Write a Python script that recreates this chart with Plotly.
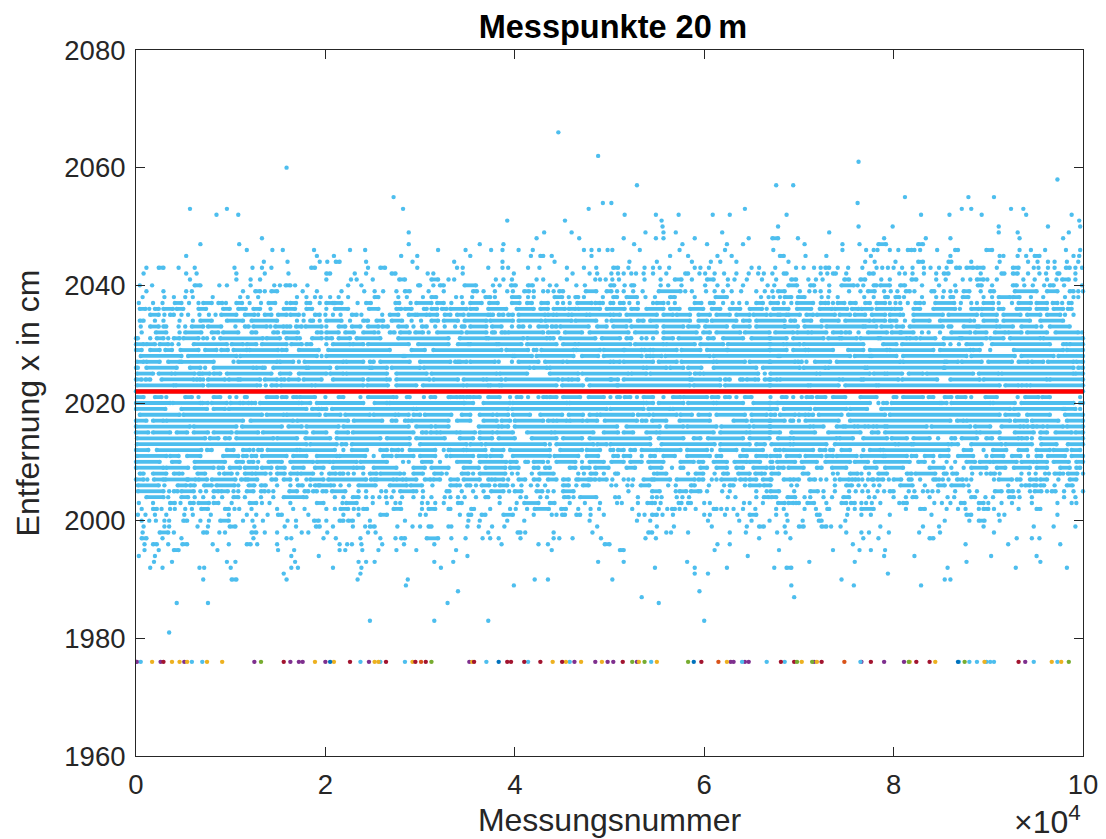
import plotly.graph_objects as go

# x positions are in hundreds of measurements; a tuple is a run of touching dots
r2066=[446]
r2062=[488]
r2061=[763]
r2060=[159]
r2058=[973]
r2057=[529,676,694]
r2055=[272,812,879,906]
r2054=[493,502,762]
r2053=[57,96,282,478,643,872,882,924,937]
r2052=[85,108,516,549,573,609,627,687,829,859,893,940,988]
r2051=[392,453,555,996]
r2050=[556,678,763,799,911,963,997]
r2049=[288,431,460,538,557,570,619,732,911,931,985]
r2048=[133,423,468,515,549,557,590,647,(672,678),699,790,834,860,933,979]
r2047=[68,109,288,363,388,526,577,603,624,641,706,746,764,(784,792),(826,831)]
r2046=[117,144,155,188,226,242,319,348,375,387,404,419,473,481,489,498,503,532,574,622,673,746,771,779,783,796,805,(815,819),822,828,846,(865,868),(898,904),933,945,960,982,997]
r2045=[53,191,209,280,297,353,417,(427,430),439,481,564,583,614,629,(680,684),707,729,776,860,912,916,931,940,(949,954),990,996]
r2044=[135,160,194,202,(211,215),243,292,336,387,442,521,550,587,607,617,634,689,770,780,802,(826,831),(858,861),882,912,942,952,963,970,983,995]
r2043=[11,(24,29),45,62,104,123,133,143,(185,189),245,(258,263),297,339,345,372,387,393,414,426,455,473,486,(504,509),520,537,546,553,563,590,596,605,650,658,675,697,705,716,723,(728,732),741,752,767,782,788,794,800,809,820,832,839,848,856,(866,870),(877,884),(888,895),909,(926,932),948,953,963,970,(982,986),992,999]
r2042=[8,53,64,106,136,161,(201,205),231,243,(270,274),308,314,345,399,461,479,487,502,509,515,523,528,536,546,560,(580,583),595,601,611,621,634,647,657,663,672,(684,687),723,730,(736,739),750,(774,779),806,812,820,832,845,(853,858),892,(914,917),(926,931),942,954,961,(973,975),992]
r2041=[57,106,121,131,201,227,233,250,(278,284),(312,319),330,336,380,388,397,423,430,455,485,490,496,503,510,537,554,(569,576),587,(603,610),625,632,645,661,676,(692,697),710,718,725,(748,753),(765,770),787,796,(819,824),845,855,873,881,(888,895),899,909,937,949,962,972,(978,985),992]
r2040=[4,17,(62,68),88,96,121,146,152,(158,163),168,181,224,238,(298,300),314,(321,325),(347,359),377,384,(396,401),(414,419),437,444,465,474,(501,505),516,(523,526),554,562,576,601,614,625,641,667,674,(689,698),(712,716),732,(745,758),762,768,(779,782),(786,796),(807,812),830,848,865,(889,893),904,(926,930),938,947,959,(965,969),980,999]
r2039=[11,29,53,59,113,(126,131),136,(143,149),176,191,217,241,252,261,275,(284,289),309,325,(356,360),367,379,392,398,(410,415),420,430,435,441,(447,451),(475,486),(497,502),508,515,525,535,(552,575),580,587,602,611,620,629,639,655,664,672,(678,685),701,711,717,723,732,753,765,(773,780),790,797,804,(813,817),822,(840,843),853,860,866,(874,880),892,(902,906),(928,951),(962,973),(986,990),995,1000]
r2038=[7,30,40,52,60,81,110,118,129,170,180,189,195,205,214,224,(252,256),277,286,303,(312,317),338,344,355,(369,374),379,(397,405),414,420,(442,450),457,(464,467),473,493,(504,508),(518,529),538,548,(564,569),590,(612,624),660,668,673,680,(685,692),(699,706),724,731,741,769,779,(791,794),(802,806),811,830,845,852,(860,863),(873,879),895,904,(911,923),(926,933),945,958,981,990,995]
r2037=[3,18,28,(41,48),56,66,(71,80),(87,91),95,(106,112),120,132,(140,147),159,(163,169),(180,184),194,(201,208),(210,217),234,(243,248),(274,278),290,(296,312),(318,325),333,345,(353,365),(373,382),(397,405),(413,418),(428,435),445,451,458,(466,481),(485,490),493,(501,504),(511,515),521,530,546,(550,557),562,569,(590,597),(606,610),620,630,637,645,(655,662),(670,678),684,692,(698,715),(723,728),731,736,(741,748),(754,760),(770,775),(782,791),796,802,807,815,(823,828),832,(844,864),871,882,888,(895,905),911,925,(932,945),(951,962),(968,973),978,(985,988)]
r2036=[(4,10),14,(20,24),(29,39),(43,50),(66,74),(92,99),(108,116),(124,131),142,(156,168),(180,186),201,(210,224),(246,256),(275,280),(284,291),(304,307),(312,318),(323,328),(332,349),(353,360),(372,391),(402,420),(427,435),(441,453),(457,464),(467,490),(497,516),(523,530),(539,557),(564,574),(585,599),(608,617),(627,638),(648,661),666,(673,689),(698,713),(722,735),(738,751),(756,763),(766,777),(782,798),(801,808),(821,828),(842,865),870,(882,890),(893,905),(911,916),(930,944),(951,962),(969,979),(984,988)]
r2035=[(15,24),30,(36,40),48,55,67,77,84,(90,106),(115,125),129,(136,143),(150,159),(163,172),177,(189,194),200,208,216,(228,233),238,260,(268,277),(288,295),(297,307),(310,318),(326,332),(339,346),(351,372),(374,377),(383,388),(393,398),(404,432),(435,441),(444,457),(460,476),(479,501),(504,511),(518,550),(557,567),(571,585),(594,606),(613,627),(634,648),(652,666),(670,678),(680,687),(689,701),(708,715),(719,738),(743,754),(759,770),(777,791),(796,807),810,(821,852),(858,888),(893,909),(916,934),(941,955),(962,976),981,990]
r2034=[(4,8),20,29,46,60,(68,80),(96,113),(122,149),170,177,(184,187),194,(201,217),226,(240,245),(254,261),(270,281),291,301,(312,319),(325,340),(347,370),(374,398),(404,428),(432,460),(464,486),497,(502,522),(530,536),(543,585),(594,603),(608,634),(641,648),(655,685),(691,696),(705,713),(724,742),(749,775),(779,791),(796,803),812,(821,838),(849,881),885,(895,909),(916,944),(955,979)]
r2033=[5,(15,24),(29,32),45,52,(59,71),(76,90),105,(115,119),(124,138),142,(147,156),(159,163),(169,175),(179,196),201,(214,221),(228,237),(245,256),(260,266),(277,286),293,(302,307),316,326,337,(344,347),(353,370),(376,386),397,(404,409),416,(425,434),(439,444),(448,478),(487,497),(504,518),(523,550),(557,578),(583,594),(601,624),(631,648),(655,685),(685,699),(706,724),(729,768),(770,782),(787,798),(803,810),(817,852),(858,861),(874,888),(890,909),(912,926),(935,951),956,(965,986)]
r2032=[6,(21,32),46,(52,69),(80,87),(92,108),(122,127),(145,150),(156,171),(191,196),(201,214),(221,230),(240,252),256,(268,273),(279,289),(295,303),309,(318,344),(349,370),(376,379),(386,390),(393,430),(435,446),(453,471),(479,520),(527,550),(557,592),(599,606),(613,638),(643,669),(675,694),(698,710),(713,729),(736,745),(749,754),763,(773,793),(798,807),(808,821),830,837,849,(861,881),(886,898),(907,918),(921,935),(941,962),(971,995),999]
r2031=[(0,2),15,(22,29),34,(40,46),(50,66),71,75,82,(89,134),(138,152),(159,170),173,(186,196),(201,207),(214,226),(233,258),(277,330),(342,370),(372,409),(413,434),(437,441),(448,485),(492,511),(518,523),534,539,546,(557,567),(573,596),(604,610),(620,641),(650,669),(670,687),(694,726),(731,743),(745,761),(765,784),(786,814),(817,824),(828,844),(853,870),(872,898),(902,916),(923,955),(958,1000)]
r2030=[(0,8),(11,20),(25,34),38,45,(61,96),(101,113),(117,127),(133,159),(164,175),(180,185),201,(208,226),(229,240),(245,288),(298,330),(340,351),(353,381),(383,407),(413,444),(451,464),(467,522),(527,557),(560,590),(596,620),(625,669),(670,684),(687,701),(705,768),(789,803),(809,853),860,869,(877,893),(904,965),(979,983),(986,1000)]
r2029=[(0,6),(15,25),(31,38),(47,66),(73,85),(90,97),(103,117),(120,150),(154,159),(172,193),(203,268),(291,305),(314,386),(391,414),(420,423),(428,462),(465,490),(494,515),(516,534),(537,543),(546,571),(576,596),(603,624),(625,669),(670,687),(694,707),(710,736),(752,768),(775,793),(796,842),(849,881),(884,891),902,(927,979),(983,1000)]
r2028=[(5,48),(55,106),(110,191),196,(201,282),(284,398),(400,418),(423,462),(471,488),(494,534),(539,543),(546,555),(559,606),(610,678),(680,754),(759,775),(777,803),(810,877),(882,928),(935,969),(974,1000)]
r2027=[(1,8),(11,25),(34,46),(48,82),103,(108,149),(152,166),172,(178,219),(222,240),(247,251),(258,289),(300,332),(337,340),(342,349),(353,379),383,397,(404,425),(432,451),(455,501),(504,511),(515,546),(552,571),(576,610),(613,643),(648,669),(670,696),(699,703),708,(717,733),(740,807),(810,854),(856,868),(872,893),(900,925),(932,942),(946,958),(963,990),(993,1000)]
r2026=[(0,2),(11,43),(57,68),73,(82,124),(127,134),136,(145,180),(182,205),(212,247),(249,265),(270,300),(304,416),(420,434),(437,536),(539,560),(564,578),(583,597),(610,655),(662,701),(705,728),(731,770),(772,853),(854,990),(995,1000)]
r2025=[(1,18),(24,38),(41,62),(66,68),(70,78),(82,89),(96,143),(152,163),(172,201),(205,219),(222,265),(275,307),(312,381),(384,413),(437,467),(471,520),(523,539),(543,585),(590,596),(599,657),664,(670,719),(722,775),(779,791),(793,809),(816,831),(835,884),(890,911),(914,990),(992,1000)]
r2024=[(0,6),(10,15),(27,61),(64,68),71,(76,94),(98,108),(110,131),(136,149),(153,157),(161,172),(177,196),(208,240),(245,265),268,(275,310),(314,340),(346,367),(370,386),(390,446),(450,457),(460,467),(476,501),(502,509),(515,585),(587,617),(622,627),(638,641),(645,654),657,(664,669),(670,677),(680,743),(746,766),(768,805),(809,846),(860,891),(895,962),(965,1000)]
r2023=[(1,40),(42,71),(76,128),131,137,(143,149),(153,186),(189,240),(244,266),(275,296),(303,346),(349,372),(374,384),(386,444),(450,472),(479,508),(509,585),(589,617),(622,669),(670,710),(712,742),(749,782),(784,912),(918,932),(935,941),(944,1000)]
r2022=[(0,1000)]
r2021=[(1,8),(20,27),32,(52,59),66,(82,89),99,106,(115,117),(138,149),(154,159),(166,170),(173,189),200,(214,219),237,(245,272),275,(286,289),304,(311,316),330,(332,339),(342,346),(349,353),(356,363),(372,384),395,(402,407),414,425,(430,434),(437,444),(451,469),(478,494),501,(508,511),(516,522),529,(536,546),557,(567,575),(578,603),(608,615),(622,627),634,(643,650),670,(682,687),694,703,(708,714),(719,728),(736,749),(765,782),(800,803),(810,831),(837,842),(854,861),(867,876),882,(897,909),931,(939,953),(957,965),997]
r2020=[(0,36),(39,68),(70,76),(80,96),(100,110),(113,119),(122,126),(131,172),(175,184),(191,240),(252,265),(268,346),(347,356),(367,395),(398,455),(458,536),(539,546),(552,578),(583,610),(613,641),(652,669),(670,677),(678,775),784,(789,793),(798,849),(851,856),(861,902),(905,928),(935,990),(997,1000)]
r2019=[(0,31),(48,75),(82,94),(98,180),(186,193),(196,201),(207,293),(296,393),(397,497),(501,536),(541,564),(567,669),(670,677),(684,712),(717,750),(754,772),(787,923),(927,979),(981,992),997]
r2018=[(4,46),(50,133),(138,156),(159,194),(200,216),(221,247),(251,274),(277,288),(293,300),(305,333),(344,353),(363,377),(381,393),(398,416),(427,450),(457,472),(479,487),(490,525),(530,542),(546,571),(575,587),(594,606),(613,643),(650,666),(670,675),(680,696),(700,707),(710,715),(721,745),(752,791),(796,912),(918,932),(941,965),(981,1000)]
r2017=[(0,11),(18,29),(32,113),(121,166),(170,224),(230,260),(270,275),(284,288),(291,330),(339,353),(367,381),(386,395),(400,430),(435,441),(444,455),(458,472),(476,487),(495,529),(534,539),(545,560),(574,606),(631,645),(650,669),(670,685),(691,694),700,(707,742),(754,860),(867,874),(877,923),(928,941),(946,974),(983,1000)]
r2016=[(0,57),(61,106),(112,154),(161,175),(180,214),(219,288),(296,312),(316,330),(362,383),(386,393),(400,508),(518,553),(560,578),(582,613),(618,648),(652,669),(670,712),(715,726),(740,747),(749,759),(762,770),(773,779),(782,791),(793,835),(840,881),(886,902),(914,934),(937,942),(946,948),(951,958),(962,979),(983,1000)]
r2015=[(0,13),(18,36),(43,54),(61,76),(82,101),(106,129),(134,180),(187,201),(212,224),(229,293),(302,307),(311,318),(321,339),(342,358),(363,377),(381,398),(413,439),(442,483),(494,509),(515,525),(539,550),(553,610),(617,645),(648,669),(670,680),(692,717),(731,765),(777,784),(791,888),(891,912),(928,948),(955,962),(971,988),(992,1000)]
r2014=[(1,73),(78,87),(94,99),(106,145),(149,170),(179,205),(212,258),(265,289),(296,326),(342,356),(363,376),(383,400),(418,444),(451,471),(479,543),(552,578),(589,596),(604,641),(648,669),(678,691),(694,740),(743,757),(768,793),(798,814),(821,838),847,(861,865),(872,888),(898,904),(912,932),(935,941),946,(955,1000)]
r2013=[(1,180),(184,212),(217,222),(228,289),(300,349),(353,365),(369,432),437,(444,483),(487,497),(501,543),(555,611),(617,648),(655,664),(671,691),(694,729),(738,802),(805,819),(821,858),(861,868),(882,914),(918,946),(956,972),(984,1000)]
r2012=[(0,13),(22,69),(75,80),(96,103),(113,120),124,(129,133),(139,170),(173,210),219,(228,244),(258,265),(270,277),281,(289,316),325,330,(332,346),(349,369),(376,388),(395,437),(448,471),(476,490),(501,504),(509,515),(522,527),(534,550),(553,575),(582,603),608,(617,634),(641,662),(675,680),(684,715),(722,728),(733,736),(745,754),768,(775,786),(789,858),(874,882),895,(905,919),(932,941),(951,965),(969,983),(988,997)]
r2011=[(1,32),(36,45),(54,68),(92,108),(113,117),(122,127),(133,159),(166,180),(191,212),(215,242),251,(261,270),(275,293),(300,316),328,(332,356),(362,370),(374,386),(398,437),(442,467),(476,488),(504,509),(515,522),534,(543,548),(557,569),(582,606),(613,618),(638,645),(655,666),(670,677),680,(687,701),(707,724),(729,736),(740,761),(766,789),(791,814),(819,824),(833,842),(849,858),(868,884),898,(904,916),(925,934),942,(951,956),(963,981),(988,1000)]
r2010=[(0,25),(38,46),(62,94),(106,113),(119,124),129,(140,154),(163,187),(191,205),(208,233),(237,265),282,288,(302,312),321,(339,353),(363,391),(395,402),(411,414),(420,430),435,(444,464),471,(479,494),(502,515),(522,534),(541,557),(575,589),(594,599),(610,624),(632,645),(648,659),(670,672),(677,696),(703,719),(728,754),(759,773),(780,817),(826,833),842,856,865,(877,886),(891,902),(905,930),(935,948),(951,962),(969,985),(993,1000)]
r2009=[(0,29),(32,55),(62,82),(87,92),(99,110),(115,128),(133,143),(149,157),(166,177),(189,198),(208,230),(233,240),(251,275),(293,305),(312,330),(346,362),(369,390),(395,404),(420,425),(432,437),(458,464),(471,479),(485,499),(518,527),(543,555),566,(575,578),(596,603),(613,624),(634,641),(652,666),(670,673),(678,684),(689,705),(719,724),(735,750),(770,782),(791,810),(838,853),861,874,(882,898),(909,918),(927,944),(951,962),(976,986),(993,997)]
r2008=[(4,8),(18,32),(40,46),49,(65,73),88,(93,101),107,(115,123),(126,137),142,(149,157),(163,171),(174,187),196,(204,211),(215,219),224,230,240,(247,254),(258,279),283,(293,303),(315,323),328,(344,351),356,(363,390),397,403,418,(426,441),467,473,(480,486),494,(506,509),547,(550,560),583,(591,599),611,(620,625),(636,648),(654,661),664,(671,679),(704,710),736,741,(754,762),766,774,(784,793),(814,819),(823,844),(853,856),(862,867),883,892,898,(902,907),912,935,943,950,960,964,(970,976),979,(984,994),1000]
r2007=[(0,8),12,(19,29),(31,54),(55,63),(66,75),(80,105),(111,116),(118,128),(143,148),(156,163),170,180,(184,198),(203,243),(248,252),(254,272),(275,282),(285,296),(305,311),(314,321),(332,340),(346,363),(372,376),(379,388),393,(404,411),(420,426),(435,444),(451,457),465,(467,478),(480,485),(489,497),503,515,520,525,(536,545),(547,564),(571,590),(594,599),608,613,(618,633),(638,644),(648,655),(662,670),671,(684,691),(694,700),(711,717),723,729,738,(743,753),(756,760),763,767,773,(777,779),(783,789),795,(800,808),(816,819),828,(842,845),848,852,858,(867,873),877,882,906,(911,925),(930,934),(944,951),(955,962),974,(986,993)]
r2006=[(2,24),30,(44,53),(57,62),(72,80),(85,104),108,(119,125),(132,137),149,163,(171,176),184,(189,193),(194,206),209,216,225,(235,253),(268,286),(290,302),313,(332,339),342,(349,353),359,(365,373),379,(384,392),398,407,417,424,432,(451,457),465,(472,478),502,507,519,524,(533,542),562,570,(586,590),605,621,(627,631),643,(648,659),(663,670),692,698,738,(750,756),763,770,779,785,(807,820),833,(847,854),(861,874),879,921,935,(939,944),(948,951),(955,959),970,(983,989)]
r2005=[(2,29),35,(40,44),(48,61),68,74,(82,87),(90,97),103,108,(117,124),(132,136),140,145,(162,170),(178,182),(187,191),(197,201),(207,221),235,243,259,264,272,(279,293),296,303,(328,331),344,356,367,(375,388),394,(400,407),(423,429),435,441,(451,462),520,(545,553),570,(574,581),(586,594),596,603,619,627,655,666,(670,679),695,(712,720),726,738,753,760,767,773,783,790,(796,800),816,822,831,836,841,847,865,880,888,(907,914),(921,926),932,944,(949,956),962,(967,971),980,990,1000]
r2004=[(11,29),34,(48,55),62,71,82,91,(103,108),115,132,145,(156,177),180,210,219,(229,235),243,250,257,264,270,281,293,303,312,326,332,340,347,359,(369,372),384,406,412,427,434,(452,457),462,(469,486),506,510,530,545,550,555,571,577,584,625,633,655,(663,668),(671,676),(688,696),706,712,726,735,(747,753),774,780,800,813,(820,824),838,857,864,(882,886),897,905,(922,927),933,946,980,992]
r2003=[3,18,(36,41),47,(57,61),(66,77),(82,87),101,(120,127),133,141,163,(191,198),218,(222,233),250,265,274,279,302,308,316,325,(340,344),384,402,(410,425),(437,442),458,474,490,508,513,530,(540,545),548,554,(573,576),(583,586),600,606,642,648,662,(678,685),(689,694),(697,700),(709,716),729,(745,750),(755,759),766,771,777,786,806,(810,814),843,851,860,(871,875),(890,895),900,914,925,946,973,988,993]
r2002=[6,(18,22),27,36,41,52,59,(69,76),(94,98),104,109,122,149,166,178,201,210,(216,224),230,235,(240,244),(272,280),302,(309,316),330,332,(354,357),374,395,401,413,(421,436),(449,454),467,480,489,524,552,561,(566,569),574,580,591,(610,613),618,624,631,641,654,676,684,706,718,(730,732),752,759,(766,779),813,(828,833),856,868,876,890,(895,900),906,932,(951,955)]
r2001=[2,10,20,32,51,60,79,98,117,127,139,(150,154),182,219,235,(258,265),300,306,342,(351,354),(365,369),(388,398),420,439,444,(450,453),(465,469),480,494,531,537,(545,550),556,567,600,606,622,635,(648,655),676,687,(719,722),751,766,776,796,840,(877,882),911,917,973]
r2000=[6,14,21,30,35,(50,54),68,77,(89,98),113,123,134,160,169,(188,193),201,(215,219),(224,229),247,284,351,363,392,410,479,529,543,604,637,650,669,688,704,(721,724),749,854,880,(890,896),912]
r1999=[8,30,35,65,76,(99,105),125,157,169,(190,194),208,229,242,(247,252),276,292,300,(309,312),330,333,350,362,376,389,487,550,568,608,645,(658,663),685,(700,705),(724,729),734,744,786,831,848,895,948,969,992]
r1998=[7,(25,34),40,(71,75),88,94,(122,127),136,149,175,182,202,245,253,372,(403,406),411,441,482,(541,545),560,565,583,627,644,677,686,750,766,774,795,827,849,906]
r1997=[(6,11),28,48,124,159,164,198,211,237,258,274,(280,284),(307,319),333,348,366,374,383,406,441,447,461,491,538,549,658,691,768,784,(838,842),930,946,954]
r1996=[9,(18,22),34,(49,54),81,98,(117,121),128,149,215,223,228,238,260,283,315,386,425,435,(495,500),614,627,757,876,921,976]
r1995=[9,24,(40,45),86,150,167,215,221,239,256,275,296,338,439,(511,515),611,679,736,764,776,791]
r1994=[3,20,164,193,350,646,790,822,903,951]
r1993=[19,38,96,105,168,235,243,252,315,335,488,515,582,711,759,877,955]
r1992=[15,28,67,72,100,164,171,208,238,322,548,590,624,674,(687,692),857,929,983]
r1991=[156,237,590,604,794]
r1990=[71,(101,106),159,234,287,421,435,503,745,854,860]
r1989=[285,399,692,758,829]
r1988=[340,595]
r1987=[534,695]
r1986=[43,76,329,552]
r1983=[247,315,372,600]
r1981=[35]
row_values=[2066,2062,2061,2060,2058,2057,2055,2054,2053,2052,2051,2050,2049,2048,2047,2046,2045,2044,2043,2042,2041,2040,2039,2038,2037,2036,2035,2034,2033,2032,2031,2030,2029,2028,2027,2026,2025,2024,2023,2022,2021,2020,2019,2018,2017,2016,2015,2014,2013,2012,2011,2010,2009,2008,2007,2006,2005,2004,2003,2002,2001,2000,1999,1998,1997,1996,1995,1994,1993,1992,1991,1990,1989,1988,1987,1986,1983,1981]
row_lists=[r2066,r2062,r2061,r2060,r2058,r2057,r2055,r2054,r2053,r2052,r2051,r2050,r2049,r2048,r2047,r2046,r2045,r2044,r2043,r2042,r2041,r2040,r2039,r2038,r2037,r2036,r2035,r2034,r2033,r2032,r2031,r2030,r2029,r2028,r2027,r2026,r2025,r2024,r2023,r2022,r2021,r2020,r2019,r2018,r2017,r2016,r2015,r2014,r2013,r2012,r2011,r2010,r2009,r2008,r2007,r2006,r2005,r2004,r2003,r2002,r2001,r2000,r1999,r1998,r1997,r1996,r1995,r1994,r1993,r1992,r1991,r1990,r1989,r1988,r1987,r1986,r1983,r1981]

outlier_level=1976
x_purple=[1,26,51,125,163,172,176,200,246,352,463,485,498,504,529,628,631,643,647,716,766,790,811,939]
x_ltblue=[5,59,70,237,258,284,370,414,458,544,640,666,685,765,869,880,888,898,902,906,948,973]
x_yellow=[17,38,46,54,75,91,189,209,252,256,292,355,440,454,470,492,531,550,624,703,719,817,844,896,967,977]
x_red=[29,156,226,264,295,306,357,392,396,410,427,450,514,597,681,695,724,776,824,838,932]
x_green=[132,312,524,537,583,698,714,816,875,985]
x_blue=[205,383,589,868]
x_orange=[301,615,748]
mean_x=[0,1000]
mean_y=[2021.95,2021.95]

xtick_vals=[0,200,400,600,800,1000]
xtick_text=["0","2","4","6","8","10"]
ytick_vals=[1960,1980,2000,2020,2040,2060,2080]

X_UNIT=100
DOT="#4DBEEE"
INK="#262626"
FONT="Liberation Sans"

xs,ys=[],[]
for level,items in zip(row_values,row_lists):
    for it in items:
        if isinstance(it,tuple):
            xs+=[it[0]*X_UNIT,it[1]*X_UNIT,None]; ys+=[level,level,None]
        else:
            xs+=[it*X_UNIT,None]; ys+=[level,None]

fig=go.Figure()
fig.add_trace(go.Scatter(x=xs,y=ys,mode="lines+markers",cliponaxis=False,showlegend=False,
    line=dict(color=DOT,width=3.8),marker=dict(color=DOT,size=4.4,line=dict(width=0)),connectgaps=False))
for vals,col in [(x_purple,"#7E2F8E"),(x_ltblue,DOT),(x_yellow,"#EDB120"),(x_red,"#A2142F"),(x_green,"#77AC30"),(x_blue,"#0072BD"),(x_orange,"#D95319")]:
    fig.add_trace(go.Scatter(x=[v*X_UNIT for v in vals],y=[outlier_level]*len(vals),mode="markers",showlegend=False,
        marker=dict(color=col,size=4.4,line=dict(width=0))))
fig.add_trace(go.Scatter(x=[v*X_UNIT for v in mean_x],y=mean_y,mode="lines",cliponaxis=False,showlegend=False,line=dict(color="#FF0000",width=4.5)))

axis=dict(showgrid=False,zeroline=False,showline=True,mirror="ticks",linecolor=INK,linewidth=1,
          ticks="inside",ticklen=9,tickwidth=1,tickcolor=INK,ticklabelstandoff=4,tickfont=dict(family=FONT,size=27.5,color=INK))
fig.update_layout(width=1106,height=839,margin=dict(l=136,r=23,t=50,b=83,autoexpand=False),
    paper_bgcolor="white",plot_bgcolor="white",font=dict(family=FONT),
    title=dict(text="<b>Messpunkte 20\u2009m</b>",x=0.5542,xanchor="center",y=0.968,yanchor="middle",font=dict(family=FONT,size=32.5,color="black")),
    xaxis=dict(axis,range=[0,100000],tickmode="array",tickvals=[v*X_UNIT for v in xtick_vals],ticktext=xtick_text,
               title=dict(text="Messungsnummer",font=dict(family=FONT,size=32,color=INK),standoff=9)),
    yaxis=dict(axis,range=[1960,2080],tickmode="array",tickvals=ytick_vals,
               title=dict(text="Entfernung x in cm",font=dict(family=FONT,size=32,color=INK),standoff=15)),
    annotations=[dict(text="\u00d710<sup>4</sup>",xref="paper",yref="paper",x=1.0,y=-0.09,xanchor="right",yanchor="middle",
                      showarrow=False,font=dict(family=FONT,size=32,color=INK))])
fig.write_html("out.html",config=dict(displayModeBar=False),post_script="document.body.style.margin='0';")
